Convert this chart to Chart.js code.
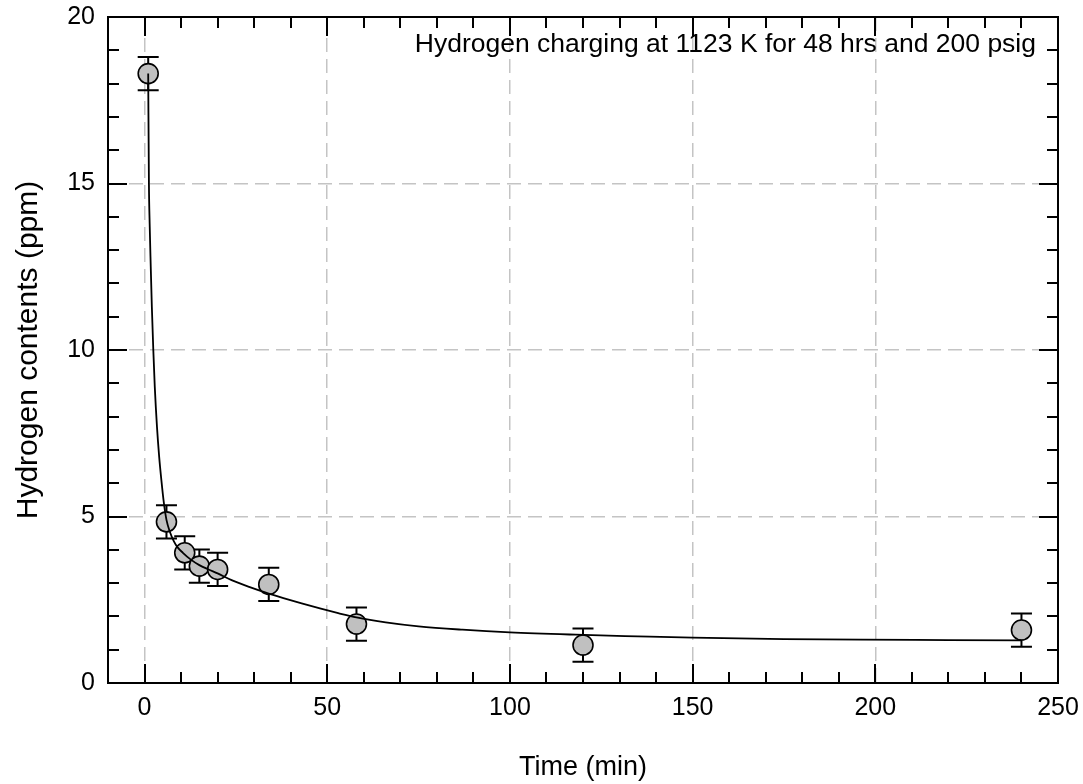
<!DOCTYPE html>
<html>
<head>
<meta charset="utf-8">
<script src="https://cdn.jsdelivr.net/npm/chart.js@4.4.1/dist/chart.umd.min.js"></script>
<style>
html,body{margin:0;padding:0;background:#fff;}
#wrap{width:1083px;height:784px;position:relative;}
</style>
</head>
<body>
<div id="wrap"><canvas id="c" width="1083" height="784"></canvas></div>
<script>
// ---- data ----
const timeMin = [1, 6, 11, 15, 20, 34, 58, 120, 240];
const hydrogenPpm = [18.3, 4.84, 3.91, 3.51, 3.41, 2.96, 1.77, 1.14, 1.59];
const errorPpm = [0.5, 0.5, 0.5, 0.5, 0.5, 0.5, 0.5, 0.5, 0.5];

const fitTime = [1, 1.2, 1.4, 1.7, 2, 2.4, 2.8, 3.4, 4, 4.6, 5.3, 6, 7, 8, 9, 10.5, 12.5, 15, 17.5, 20, 24, 29, 33, 38, 43, 48, 53, 58, 66, 75, 87, 100, 118, 135, 150, 175, 196, 220, 240];
const fitPpm = [18.3, 15.0, 13.8, 12.5, 11.3, 10.0, 8.9, 7.7, 6.8, 6.1, 5.4, 4.9, 4.52, 4.26, 4.08, 3.91, 3.72, 3.54, 3.41, 3.29, 3.08, 2.87, 2.72, 2.55, 2.39, 2.24, 2.10, 1.97, 1.82, 1.70, 1.60, 1.52, 1.45, 1.40, 1.36, 1.32, 1.30, 1.29, 1.28];

const xTicks = [0, 50, 100, 150, 200, 250];
const yTicks = [0, 5, 10, 15, 20];
const xMinorStep = 10;
const yMinorStep = 1;
const annotationText = 'Hydrogen charging at 1123 K for 48 hrs and 200 psig';

const FONT = "'Liberation Sans', Arial, sans-serif";

const framePlugin = {
  id: 'frame',
  beforeDatasetsDraw(chart) {
    const ctx = chart.ctx;
    const xs = chart.scales.x, ys = chart.scales.y;
    ctx.save();
    ctx.strokeStyle = '#000';
    ctx.lineWidth = 2;
    for (let i = 0; i < timeMin.length; i++) {
      const px = xs.getPixelForValue(timeMin[i]);
      const pt = ys.getPixelForValue(hydrogenPpm[i] + errorPpm[i]);
      const pb = ys.getPixelForValue(hydrogenPpm[i] - errorPpm[i]);
      ctx.beginPath();
      ctx.moveTo(px, pt); ctx.lineTo(px, pb);
      ctx.moveTo(px - 10.5, pt); ctx.lineTo(px + 10.5, pt);
      ctx.moveTo(px - 10.5, pb); ctx.lineTo(px + 10.5, pb);
      ctx.stroke();
    }
    ctx.restore();
  },
  afterDraw(chart) {
    const ctx = chart.ctx;
    const a = chart.chartArea;
    const xs = chart.scales.x, ys = chart.scales.y;
    ctx.save();
    ctx.strokeStyle = '#000';
    ctx.lineWidth = 2;
    ctx.beginPath();
    for (let v = xs.min; v <= xs.max + 1e-9; v += xMinorStep) {
      const val = Math.round(v);
      if (val % xMinorStep !== 0) continue;
      const p = Math.round(xs.getPixelForValue(val));
      const len = xTicks.includes(val) ? 19 : 11;
      ctx.moveTo(p, a.bottom); ctx.lineTo(p, a.bottom - len);
      ctx.moveTo(p, a.top); ctx.lineTo(p, a.top + len);
    }
    for (let v = ys.min; v <= ys.max + 1e-9; v += yMinorStep) {
      const p = Math.round(ys.getPixelForValue(v));
      const len = yTicks.includes(v) ? 19 : 11;
      ctx.moveTo(a.left, p); ctx.lineTo(a.left + len, p);
      ctx.moveTo(a.right, p); ctx.lineTo(a.right - len, p);
    }
    ctx.stroke();
    ctx.strokeRect(a.left, a.top, a.right - a.left, a.bottom - a.top);
    ctx.fillStyle = '#000';
    ctx.font = '26.5px ' + FONT;
    ctx.textAlign = 'right';
    ctx.textBaseline = 'middle';
    ctx.fillText(annotationText, a.right - 22, a.top + 28);
    ctx.restore();
  }
};

new Chart(document.getElementById('c'), {
  type: 'scatter',
  data: {
    datasets: [
      {
        label: 'fit',
        data: fitTime.map((t, i) => ({x: t, y: fitPpm[i]})),
        showLine: true,
        borderColor: '#000',
        borderWidth: 1.8,
        pointRadius: 0,
        fill: false,
        cubicInterpolationMode: 'monotone'
      },
      {
        label: 'data',
        data: timeMin.map((t, i) => ({x: t, y: hydrogenPpm[i]})),
        pointRadius: 10,
        pointBackgroundColor: '#c0c0c0',
        pointBorderColor: '#000',
        pointBorderWidth: 1.6,
        showLine: false
      }
    ]
  },
  options: {
    responsive: false,
    animation: false,
    devicePixelRatio: 1,
    layout: {padding: {top: 17, right: 25, left: 0, bottom: 0}},
    plugins: {legend: {display: false}, tooltip: {enabled: false}},
    scales: {
      x: {
        type: 'linear',
        min: -10, max: 250,
        afterBuildTicks: s => { s.ticks = xTicks.map(v => ({value: v})); },
        afterFit: s => { s.height = 101; s.paddingLeft = 0; s.paddingRight = 0; },
        ticks: {color: '#000', font: {family: FONT, size: 25}, padding: 10, maxRotation: 0, autoSkip: false},
        grid: {
          drawTicks: false,
          color: c => (c.tick && (c.tick.value === 250)) ? 'rgba(0,0,0,0)' : '#c4c4c4',
          lineWidth: 1.5
        },
        border: {display: false, dash: [14, 7]},
        title: {display: true, text: 'Time (min)', color: '#000', font: {family: FONT, size: 27}, padding: {top: 0, bottom: 0}}
      },
      y: {
        type: 'linear',
        min: 0, max: 20,
        afterBuildTicks: s => { s.ticks = yTicks.map(v => ({value: v})); },
        afterFit: s => { s.width = 108; s.paddingTop = 0; s.paddingBottom = 0; },
        ticks: {color: '#000', font: {family: FONT, size: 25}, padding: 13},
        grid: {
          drawTicks: false,
          color: c => (c.tick && (c.tick.value === 0 || c.tick.value === 20)) ? 'rgba(0,0,0,0)' : '#c4c4c4',
          lineWidth: 1.5
        },
        border: {display: false, dash: [14, 7]},
        title: {display: true, text: 'Hydrogen contents (ppm)', color: '#000', font: {family: FONT, size: 30}, padding: {top: 11, bottom: 0}}
      }
    }
  },
  plugins: [framePlugin]
});
</script>
</body>
</html>
